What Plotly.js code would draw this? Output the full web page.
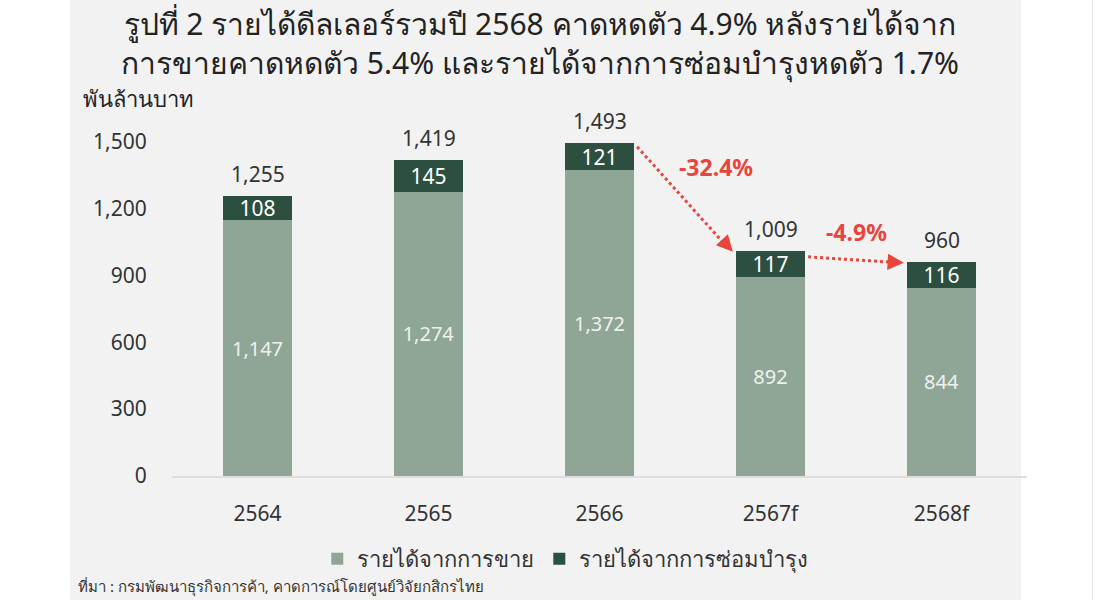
<!DOCTYPE html>
<html>
<head>
<meta charset="utf-8">
<script src="https://cdn.plot.ly/plotly-3.0.1.min.js"></script>
<style>
  html, body { margin: 0; padding: 0; background: #ffffff; width: 1095px; height: 600px; overflow: hidden; }
  #panel { position: absolute; left: 70px; top: 0; width: 951px; height: 600px; background: #f2f2f2; }
  #edge { position: absolute; left: 1092px; top: 0; width: 1px; height: 600px; background: #e4e4e4; }
  #chart { position: absolute; left: 0; top: 0; width: 1095px; height: 600px; }
</style>
</head>
<body>
<div id="panel"></div>
<div id="edge"></div>
<div id="chart"></div>
<script>
const categories = ['2564', '2565', '2566', '2567f', '2568f'];
const salesRevenue = [1147, 1274, 1372, 892, 844];
const serviceRevenue = [108, 145, 121, 117, 116];
const totalRevenue = [1255, 1419, 1493, 1009, 960];
const yTicks = [0, 300, 600, 900, 1200, 1500];
const yTickLabels = ['0', '300', '600', '900', '1,200', '1,500'];
const seriesNames = ['รายได้จากการขาย', 'รายได้จากการซ่อมบำรุง'];
const changeLabels = ['-32.4%', '-4.9%'];
const titleLine1 = 'รูปที่ 2 รายได้ดีลเลอร์รวมปี 2568 คาดหดตัว 4.9% หลังรายได้จาก';
const titleLine2 = 'การขายคาดหดตัว 5.4% และรายได้จากการซ่อมบำรุงหดตัว 1.7%';
const yUnit = 'พันล้านบาท';
const sourceText = 'ที่มา : กรมพัฒนาธุรกิจการค้า, คาดการณ์โดยศูนย์วิจัยกสิกรไทย';

const FONT = 'Noto Sans, sans-serif';
const fmt = v => v.toLocaleString('en-US');
const xIdx = categories.map((c, i) => i);
// pixel helpers for paper-referenced text (plot area: top 97px, bottom 476px)
const PLOT_TOP = 97, PLOT_BOTTOM = 476;
const py = p => (PLOT_BOTTOM - p) / (PLOT_BOTTOM - PLOT_TOP);

const traces = [
  {
    type: 'bar', name: seriesNames[0], x: xIdx, y: salesRevenue,
    marker: { color: '#8fa595' },
    text: salesRevenue.map(fmt), textposition: 'inside', insidetextanchor: 'middle',
    constraintext: 'none',
    textfont: { color: '#eef2ee', size: 20, family: FONT },
    hoverinfo: 'skip'
  },
  {
    type: 'bar', name: seriesNames[1], x: xIdx, y: serviceRevenue,
    marker: { color: '#2c4f3f' },
    text: serviceRevenue.map(fmt), textposition: 'inside', insidetextanchor: 'middle',
    constraintext: 'none',
    textfont: { color: '#ffffff', size: 21, family: FONT },
    hoverinfo: 'skip'
  }
];

const annotations = [];
// totals above bars
totalRevenue.forEach((t, i) => {
  annotations.push({
    x: i, y: t, xref: 'x', yref: 'y', text: fmt(t), showarrow: false,
    yanchor: 'bottom', yshift: 6, font: { size: 21, color: '#333333', family: FONT }
  });
});
// change arrows (dotted line + head), from bar i edge to bar i+1 edge
const arrows = [
  { from: 2, to: 3, y0: totalRevenue[2] - 16, y1: totalRevenue[3] - 3 },
  { from: 3, to: 4, y0: totalRevenue[4] + 23, y1: totalRevenue[4] - 4 }
];
const shapes = [];
arrows.forEach((a) => {
  const x0 = a.from + 0.22, x1 = a.to - 0.22;
  shapes.push({ type: 'line', xref: 'x', yref: 'y', x0: x0, y0: a.y0, x1: x1 - 0.02, y1: a.y1 + (a.y0 - a.y1) * 0.02,
    line: { color: '#e8453c', width: 3, dash: 'dot' } });
  annotations.push({ x: x1, y: a.y1, ax: x1 - (x1 - x0) * 0.12, ay: a.y1 + (a.y0 - a.y1) * 0.12,
    xref: 'x', yref: 'y', axref: 'x', ayref: 'y', text: '', showarrow: true,
    arrowhead: 2, arrowsize: 1.3, arrowwidth: 2.5, arrowcolor: '#e8453c' });
});
annotations.push({ x: 2.68, y: 1387, xref: 'x', yref: 'y', text: '<b>' + changeLabels[0] + '</b>', showarrow: false,
  font: { size: 23, color: '#e8453c', family: FONT } });
annotations.push({ x: 3.5, y: 1094, xref: 'x', yref: 'y', text: '<b>' + changeLabels[1] + '</b>', showarrow: false,
  font: { size: 23, color: '#e8453c', family: FONT } });
// title (two lines in one block)
annotations.push({ xref: 'paper', yref: 'paper', x: 0.43, y: py(1), yanchor: 'top', text: titleLine1 + '<br>' + titleLine2,
  showarrow: false, align: 'center',
  font: { size: 30, color: '#222222', family: FONT } });
// y unit
annotations.push({ xref: 'paper', yref: 'paper', x: -0.106, y: py(98), xanchor: 'left', yanchor: 'middle', text: yUnit, showarrow: false,
  font: { size: 22, color: '#222222', family: FONT } });
// source
annotations.push({ xref: 'paper', yref: 'paper', x: -0.112, y: py(599), xanchor: 'left', yanchor: 'bottom', text: sourceText, showarrow: false,
  font: { size: 15, color: '#333333', family: FONT } });

const layout = {
  width: 1095, height: 600,
  margin: { l: 172, r: 68, t: 97, b: 124 },
  paper_bgcolor: 'rgba(0,0,0,0)', plot_bgcolor: 'rgba(0,0,0,0)',
  barmode: 'stack', bargap: 0.6,
  showlegend: true,
  legend: { orientation: 'h', x: 0.46, xanchor: 'center', y: py(538), yanchor: 'top',
    font: { size: 22, color: '#333333', family: FONT }, itemwidth: 30, traceorder: 'normal' },
  xaxis: { tickmode: 'array', tickvals: xIdx, ticktext: categories, range: [-0.5, 4.5],
    showgrid: false, zeroline: false, showline: true, linecolor: '#dddddd', linewidth: 2,
    ticks: 'outside', ticklen: 18, tickcolor: 'rgba(0,0,0,0)',
    tickfont: { size: 21, color: '#333333', family: FONT }, automargin: false },
  yaxis: { range: [0, 1700], tickmode: 'array', tickvals: yTicks, ticktext: yTickLabels,
    showgrid: false, zeroline: false, showline: false, ticks: 'outside', ticklen: 20, tickcolor: 'rgba(0,0,0,0)',
    tickfont: { size: 21, color: '#333333', family: FONT }, automargin: false },
  annotations: annotations,
  shapes: shapes
};

Plotly.newPlot('chart', traces, layout, { displayModeBar: false, staticPlot: true });
</script>
</body>
</html>
